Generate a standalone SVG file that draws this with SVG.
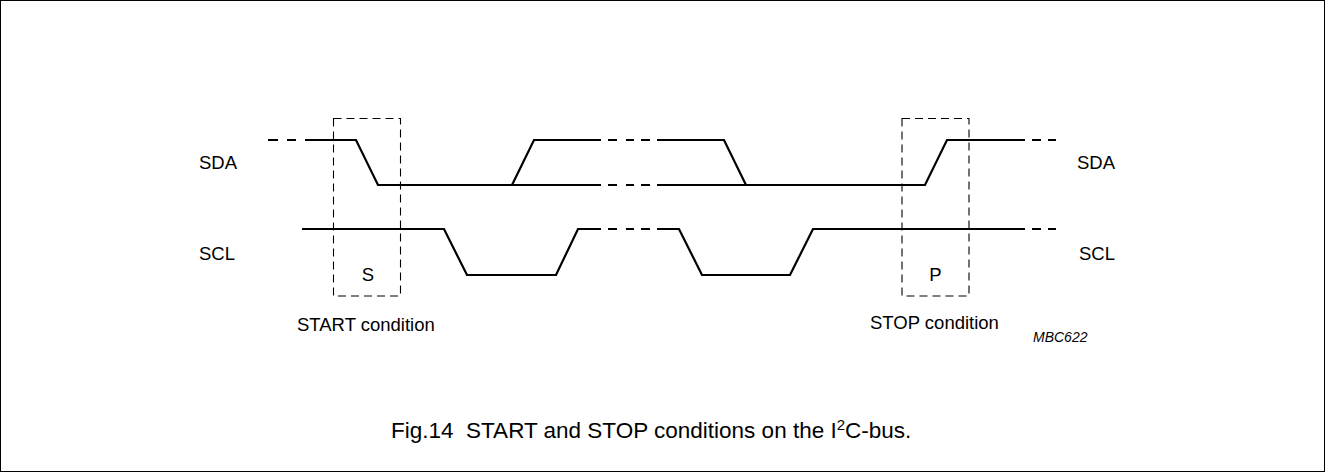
<svg xmlns="http://www.w3.org/2000/svg" width="1325" height="472" viewBox="0 0 1325 472">
<style>
.sig{fill:none;stroke:#000;stroke-width:2.2;stroke-linejoin:miter}
.box{fill:none;stroke:#000;stroke-width:1.1;stroke-dasharray:8,5}
.lbl{font-family:"Liberation Sans",Arial,sans-serif;font-size:18.5px;fill:#000}
.cap{font-family:"Liberation Sans",Arial,sans-serif;font-size:22.5px;fill:#000}
.code{font-family:"Liberation Sans",Arial,sans-serif;font-size:14px;font-style:italic;fill:#000}
</style>
<rect x="0.5" y="0.5" width="1324" height="471" fill="#fff" stroke="#000" stroke-width="1"/>
<g id="connectors">
  <path class="sig" d="M305,140 H356 L378,185 H601"/>
  <path class="sig" d="M512,185 L534,140 H601"/>
  <path class="sig" d="M657,140 H724 L746,185"/>
  <path class="sig" d="M657,185 H925 L947,140 H1025"/>
  <path class="sig" d="M302,229 H444 L467,275 H556 L578,229 H601"/>
  <path class="sig" d="M657,229 H679 L702,275 H790 L813,229 H1025"/>
  <path class="sig" d="M268,140 H278 M287,140 H296"/>
  <path class="sig" d="M608,140 H617 M626,140 H634 M641,140 H650"/>
  <path class="sig" d="M608,185 H617 M626,185 H634 M641,185 H650"/>
  <path class="sig" d="M608,229 H617 M626,229 H634 M641,229 H650"/>
  <path class="sig" d="M1032,140 H1041 M1048,140 H1056"/>
  <path class="sig" d="M1032,229 H1041 M1048,229 H1056"/>
</g>
<g id="start-box">
  <rect class="box" x="333.5" y="118.5" width="67" height="177.5"/>
  <text class="lbl" x="368" y="281" text-anchor="middle">S</text>
  <text class="lbl" x="297" y="330.5">START condition</text>
</g>
<g id="stop-box">
  <rect class="box" x="902" y="118.5" width="67" height="177.5"/>
  <text class="lbl" x="935.5" y="281" text-anchor="middle">P</text>
  <text class="lbl" x="870" y="329">STOP condition</text>
</g>
<g id="labels">
  <text class="lbl" x="199" y="169">SDA</text>
  <text class="lbl" x="199" y="259.5">SCL</text>
  <text class="lbl" x="1077" y="169">SDA</text>
  <text class="lbl" x="1079" y="260">SCL</text>
  <text class="code" x="1033" y="341.5">MBC622</text>
</g>
<g id="caption">
  <text class="cap" x="391" y="437.5" xml:space="preserve">Fig.14  START and STOP conditions on the I<tspan font-size="15" dy="-8">2</tspan><tspan dy="8">C-bus.</tspan></text>
</g>
</svg>
